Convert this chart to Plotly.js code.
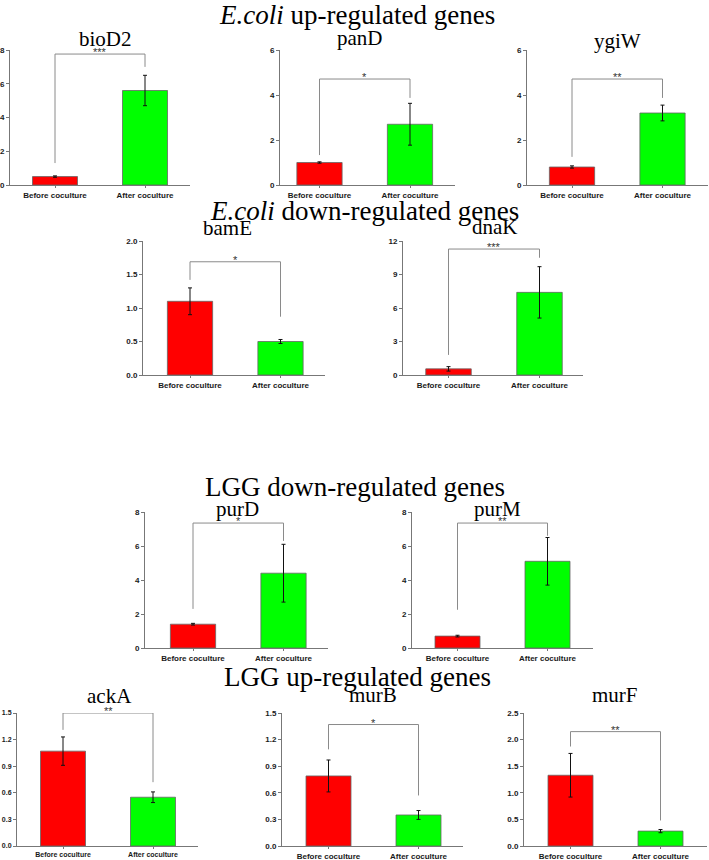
<!DOCTYPE html>
<html>
<head>
<meta charset="utf-8">
<script src="https://cdn.plot.ly/plotly-3.0.1.min.js"></script>
<style>html,body{margin:0;padding:0;background:#fff;}#chart{width:709px;height:860px;}</style>
</head>
<body>
<div id="chart"></div>
<script>
// ---- data ----
const genes = ['bioD2','panD','ygiW','bamE','dnaK','purD','purM','ackA','murB','murF'];
const conditions = ['Before coculture','After coculture'];
const beforeMean = [0.5, 1.0, 0.8, 1.1, 0.55, 1.4, 0.7, 1.07, 0.79, 1.33];
const beforeErr  = [0.04, 0.03, 0.05, 0.2, 0.2, 0.05, 0.05, 0.16, 0.18, 0.41];
const afterMean  = [5.6, 2.7, 3.2, 0.5, 7.4, 4.4, 5.1, 0.55, 0.35, 0.28];
const afterErr   = [0.9, 0.93, 0.35, 0.03, 2.3, 1.7, 1.4, 0.06, 0.05, 0.03];
const sigLabels  = ['***','*','**','*','***','*','**','**','*','**'];
const bracketY     = [7.76, 4.71, 4.71, 1.69, 11.28, 7.35, 7.35, 1.5, 1.37, 2.15];
const bracketLeft  = [1.3, 1.33, 1.25, 1.42, 1.8, 2.3, 2.25, 1.31, 1.09, 1.87];
const bracketRight = [7.0, 3.87, 3.87, 0.87, 10.5, 6.3, 6.6, 0.72, 0.57, 0.48];
const yMax   = [8, 6, 6, 2, 12, 8, 8, 1.5, 1.5, 2.5];
const yDtick = [2, 2, 2, 0.5, 3, 2, 2, 0.3, 0.3, 0.5];
const groupTitles = ['<i>E.coli</i> up-regulated genes','<i>E.coli</i> down-regulated genes',
                     'LGG down-regulated genes','LGG up-regulated genes'];

// ---- layout geometry (pixels) ----
const W = 709, H = 860;
// [axisX, center1X, center2X, endX, row]
const geo = [
  [10, 55, 145, 190, 0],
  [280, 319.5, 410, 455, 0],
  [527, 572, 662.5, 708, 0],
  [143, 190, 280.5, 325, 1],
  [403, 448.5, 539.5, 583, 1],
  [145, 193, 283.5, 328, 2],
  [412, 457.5, 547.5, 593, 2],
  [17, 63, 153, 198, 3],
  [282, 328.5, 418.5, 463, 3],
  [524, 570.5, 660.5, 707, 3]
];
const rows = [[50,185],[241,375],[512,648],[713,846]];
const geneTitlePos = [[106,39],[360,38],[617,41],[227,228],[495,227],[237,509],[497,509],[109,696],[373,695],[615,695]];
const groupTitlePos = [[357,15],[364,211],[355,487],[357,677]];

const serif = 'Liberation Serif, Times New Roman, serif';
const sans = 'Liberation Sans, Arial, sans-serif';
const axisCol = '#777';

const traces = [];
const layout = {
  width: W, height: H, margin:{l:0,r:0,t:0,b:0},
  paper_bgcolor:'#fff', plot_bgcolor:'rgba(0,0,0,0)',
  showlegend:false, bargap:0, annotations:[]
};

genes.forEach((g,i)=>{
  const k = i===0 ? '' : String(i+1);
  const xa = 'x'+k, ya = 'y'+k;
  const [ax, c1, c2, ex, r] = geo[i];
  const sp = c2 - c1;
  const lo = -(c1-ax)/sp, hi = (ex-c1)/sp;
  const small = (i===7);
  const tf = {family:sans, size: small?7:8, color:'#1a1a1a', weight:'bold'};
  layout['xaxis'+k] = {
    domain:[ax/W, ex/W], anchor:ya, type:'category', range:[lo,hi],
    showline:true, linecolor:axisCol, linewidth:1, ticks:'outside', ticklen:2, tickcolor:axisCol,
    showgrid:false, zeroline:false, tickfont:tf, fixedrange:true
  };
  layout['yaxis'+k] = {
    domain:[1-rows[r][1]/H, 1-rows[r][0]/H], anchor:xa, range:[0,yMax[i]],
    tick0:0, dtick:yDtick[i], tickformat: (yDtick[i]<1 ? '.1f' : 'd'),
    showline:true, linecolor:axisCol, linewidth:1, ticks:'outside', ticklen:3, tickcolor:axisCol,
    showgrid:false, zeroline:false, tickfont:tf, fixedrange:true
  };
  traces.push({
    type:'bar', x:conditions, y:[beforeMean[i], afterMean[i]], width:0.5,
    xaxis:xa, yaxis:ya,
    marker:{color:['#ff0000','#00ff00'], line:{color:'#666', width:0.8}},
    error_y:{type:'data', array:[beforeErr[i], afterErr[i]], color:'#111', thickness:1, width:2},
    hoverinfo:'skip'
  });
  traces.push({
    type:'scatter', mode:'lines', xaxis:xa, yaxis:ya,
    x:[conditions[0],conditions[0],conditions[1],conditions[1]],
    y:[bracketLeft[i], bracketY[i], bracketY[i], bracketRight[i]],
    line:{color:'#8a8a8a', width:1}, hoverinfo:'skip'
  });
  layout.annotations.push({
    xref:xa, yref:ya, x:0.5, y:bracketY[i], text:sigLabels[i], showarrow:false,
    yanchor:'bottom', yshift:-6, font:{family:sans, size:11, color:'#333'}
  });
  layout.annotations.push({
    xref:'paper', yref:'paper', x:geneTitlePos[i][0]/W, y:1-geneTitlePos[i][1]/H,
    text:g, showarrow:false, xanchor:'center', yanchor:'middle',
    font:{family:serif, size:21, color:'#000'}
  });
});
groupTitles.forEach((t,j)=>{
  layout.annotations.push({
    xref:'paper', yref:'paper', x:groupTitlePos[j][0]/W, y:1-groupTitlePos[j][1]/H,
    text:t, showarrow:false, xanchor:'center', yanchor:'middle',
    font:{family:serif, size:27, color:'#000'}
  });
});

Plotly.newPlot('chart', traces, layout, {displayModeBar:false, staticPlot:true});
</script>
</body>
</html>
